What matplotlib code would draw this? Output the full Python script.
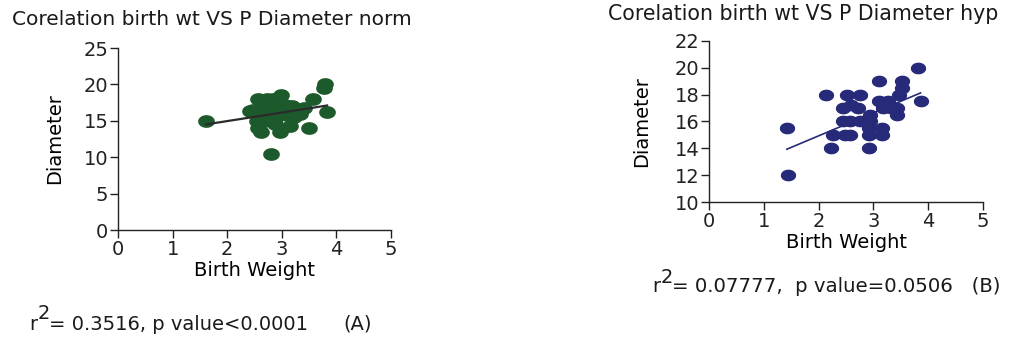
import numpy as np
import matplotlib
matplotlib.use("Agg")
import matplotlib.pyplot as plt
from matplotlib.path import Path

plt.rcParams['font.family'] = ['DejaVu Sans']

# ---- data: normotensive group (A) ----
bw_norm = [1.61, 2.80, 3.79, 3.78, 3.83, 3.58, 3.49, 2.98, 2.57, 2.72,
           2.84, 2.42, 2.57, 2.62, 2.97, 3.15, 3.18, 3.27, 3.33, 2.62,
           2.75, 2.85, 3.05, 2.55, 2.68, 2.90, 3.10, 3.22, 2.65, 2.78,
           2.95, 3.05, 2.48, 2.70, 2.88, 3.12, 3.40]
dia_norm = [15.0, 10.5, 20.0, 19.5, 16.2, 18.0, 14.0, 18.5, 18.0, 18.0,
            18.0, 16.3, 14.0, 13.5, 13.5, 14.3, 17.0, 16.5, 16.0, 16.5,
            16.8, 17.0, 17.2, 15.0, 15.0, 15.5, 15.8, 15.5, 17.5, 16.0,
            16.0, 16.3, 16.5, 15.5, 14.5, 16.5, 16.8]
fit_norm = (1.17, 12.62)          # slope, intercept

# ---- data: hypertensive group (B) ----
bw_hyp = [1.42, 1.44, 2.13, 2.22, 2.26, 2.51, 2.76, 2.44, 2.60, 2.72,
          2.44, 2.57, 2.76, 2.94, 2.48, 2.57, 2.93, 2.92, 3.15, 2.92,
          3.15, 2.92, 3.11, 3.11, 3.27, 3.18, 3.33, 3.43, 3.43, 3.47,
          3.52, 3.52, 3.82, 3.86]
dia_hyp = [15.5, 12.0, 18.0, 14.0, 15.0, 18.0, 18.0, 17.0, 17.2, 17.0,
           16.0, 16.0, 16.0, 16.0, 15.0, 15.0, 16.5, 15.5, 15.5, 15.0,
           15.0, 14.0, 19.0, 17.5, 17.5, 17.0, 17.0, 17.0, 16.5, 18.0,
           18.5, 19.0, 20.0, 17.5]
fit_hyp = (1.72, 11.49)

x_ticks = [0, 1, 2, 3, 4, 5]
y_ticks_norm = [0, 5, 10, 15, 20, 25]
y_ticks_hyp = [10, 12, 14, 16, 18, 20, 22]

GREEN = '#1d5a2b'
NAVY = '#262a78'
FS = 14

# slightly wide elliptical dot
t = np.linspace(0, 2 * np.pi, 60)
ellipse = Path(np.column_stack([1.35 * np.cos(t), np.sin(t)]))

W, H = 1009, 339
fig = plt.figure(figsize=(W / 100, H / 100), dpi=100)


def px_axes(x0, y0, x1, y1):
    return fig.add_axes([x0 / W, 1 - y1 / H, (x1 - x0) / W, (y1 - y0) / H])


def style(ax, yticks, ypad):
    for s in ('top', 'right'):
        ax.spines[s].set_visible(False)
    for s in ('left', 'bottom'):
        ax.spines[s].set_linewidth(1.0)
        ax.spines[s].set_color('#222222')
    ax.set_xlim(0, 5)
    ax.set_ylim(yticks[0], yticks[-1])
    ax.set_xticks(x_ticks)
    ax.set_yticks(yticks)
    ax.tick_params(direction='out', length=6, width=1.0, labelsize=FS,
                   colors='#222222', pad=1)
    ax.set_xlabel('Birth Weight', fontsize=FS, labelpad=2)
    ax.set_ylabel('Diameter', fontsize=FS, labelpad=ypad)


# panel A
axA = px_axes(118, 48, 391, 230)
style(axA, y_ticks_norm, 14)
axA.plot(bw_norm, dia_norm, linestyle='none', marker=ellipse,
         markersize=11, color=GREEN, zorder=3)
xa = np.array([min(bw_norm), max(bw_norm)])
axA.plot(xa, fit_norm[0] * xa + fit_norm[1], color='#2b2b2b', lw=1.6, zorder=4)

# panel B
axB = px_axes(709, 41, 983, 202)
style(axB, y_ticks_hyp, 17)
axB.plot(bw_hyp, dia_hyp, linestyle='none', marker=ellipse,
         markersize=10, color=NAVY, zorder=3)
xb = np.array([min(bw_hyp), max(bw_hyp)])
axB.plot(xb, fit_hyp[0] * xb + fit_hyp[1], color=NAVY, lw=1.2, zorder=4)


def ftext(x, y, s, size=FS, **kw):
    fig.text(x / W, 1 - y / H, s, fontsize=size, color='#1a1a1a',
             va='baseline', **kw)


ftext(12, 25, 'Corelation birth wt VS P Diameter norm', size=14.5)
ftext(608, 20, 'Corelation birth wt VS P Diameter hyp', size=14.8)

# r² statements
ftext(29, 330, 'r')
ftext(38, 319, '2')
ftext(49, 330, '= 0.3516, p value<0.0001')
ftext(343, 330, '(A)')

ftext(652, 292, 'r')
ftext(661, 283, '2')
ftext(672, 292, '= 0.07777,  p value=0.0506   (B)', size=14.2)

fig.savefig('out.png', dpi=100)
